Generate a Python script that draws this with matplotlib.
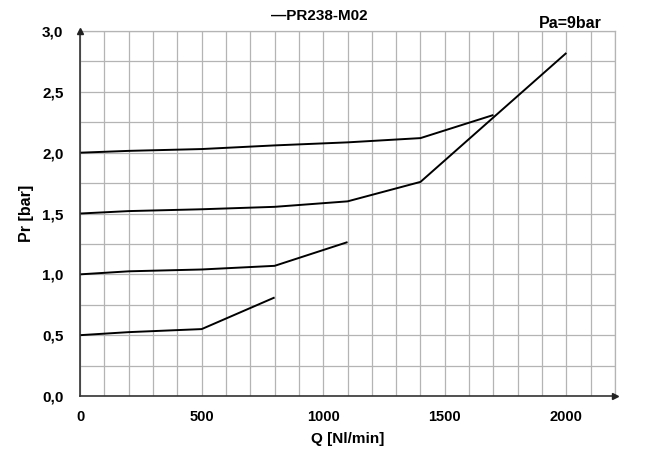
import matplotlib
matplotlib.use('Agg')
import matplotlib.pyplot as plt
from matplotlib.ticker import FuncFormatter

plt.rcParams['font.family'] = ['Liberation Sans', 'DejaVu Sans']
plt.rcParams['font.weight'] = 'bold'

# flow Q [Nl/min] and regulated pressure Pr [bar], one curve per set pressure
q_05 = [0, 200, 500, 800]
pr_05 = [0.50, 0.525, 0.55, 0.81]

q_10 = [0, 200, 500, 800, 1100]
pr_10 = [1.00, 1.025, 1.04, 1.07, 1.265]

q_15 = [0, 200, 500, 800, 1100, 1400, 1700, 2000]
pr_15 = [1.50, 1.52, 1.535, 1.555, 1.60, 1.76, 2.29, 2.82]

q_20 = [0, 200, 500, 800, 1100, 1400, 1700]
pr_20 = [2.00, 2.015, 2.03, 2.06, 2.085, 2.12, 2.31]

x_ticks = [0, 500, 1000, 1500, 2000]
y_ticks = [0.0, 0.5, 1.0, 1.5, 2.0, 2.5, 3.0]

fig = plt.figure(figsize=(6.46, 4.5), dpi=100)
ax = fig.add_axes([0.124, 0.12, 0.828, 0.811])

for q, pr in [(q_05, pr_05), (q_10, pr_10), (q_15, pr_15), (q_20, pr_20)]:
    ax.plot(q, pr, color='black', lw=1.4, solid_capstyle='butt', zorder=3)

ax.set_xlim(0, 2200)
ax.set_ylim(0, 3.0)
ax.set_xticks(x_ticks)
ax.set_yticks(y_ticks)
ax.set_xticks(range(0, 2201, 100), minor=True)
ax.set_yticks([i * 0.25 for i in range(13)], minor=True)
ax.yaxis.set_major_formatter(FuncFormatter(lambda v, p: f'{v:.1f}'.replace('.', ',')))
ax.grid(True, which='both', color='#b4b4b4', lw=0.9, zorder=0)
ax.tick_params(which='both', length=0, labelsize=10.5)
ax.tick_params(axis='x', pad=10)
ax.tick_params(axis='y', pad=12, labelsize=11)
for lab in ax.get_xticklabels() + ax.get_yticklabels():
    lab.set_fontweight('bold')

for s in ['top', 'right']:
    ax.spines[s].set_color('#b4b4b4')
    ax.spines[s].set_linewidth(0.9)
for s in ['left', 'bottom']:
    ax.spines[s].set_color('#333333')
    ax.spines[s].set_linewidth(1.2)
    ax.spines[s].set_zorder(4)

# axis arrow heads
ax.plot(1, 0, '>', color='#222222', ms=4, transform=ax.transAxes, clip_on=False, zorder=5)
ax.plot(0, 1, '^', color='#222222', ms=4, transform=ax.transAxes, clip_on=False, zorder=5)

ax.set_xlabel('Q [Nl/min]', fontsize=11, fontweight='bold', labelpad=6)
ax.set_ylabel('Pr [bar]', fontsize=11.5, fontweight='bold', labelpad=6)

fig.text(0.494, 0.965, '\u2014PR238-M02', ha='center', va='center', fontsize=11, fontweight='bold')
fig.text(0.883, 0.948, 'Pa=9bar', ha='center', va='center', fontsize=11.5, fontweight='bold')

fig.savefig('out.png', dpi=100)
